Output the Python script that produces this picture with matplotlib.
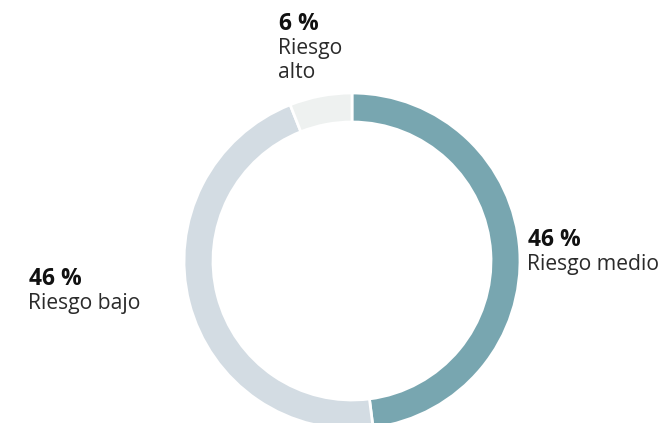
import matplotlib.pyplot as plt

# shares read from the ring (labels are the printed, rounded values)
categories = ['Riesgo medio', 'Riesgo bajo', 'Riesgo alto']
shares = [48, 46, 6]
pct_labels = ['46 %', '46 %', '6 %']
colors = ['#78a6b0', '#d3dce3', '#eef1f0']

plt.rcParams['font.family'] = ['Open Sans', 'DejaVu Sans']

W, H = 665, 423
fig = plt.figure(figsize=(W / 100, H / 100), dpi=100)
ax = fig.add_axes([0, 0, 1, 1])

cx, cy, r = 352, H - 261, 168
ax.pie(shares, colors=colors, startangle=90, counterclock=False,
       center=(cx, cy), radius=r,
       wedgeprops=dict(width=29, edgecolor='white', linewidth=2))
ax.set_xlim(0, W)
ax.set_ylim(0, H)
ax.set_aspect('equal')
ax.axis('off')

# label anchors (left x, top y in pixels from top)
label_pos = {'Riesgo medio': (528, 228, 'Riesgo medio'),
             'Riesgo bajo': (29, 267, 'Riesgo bajo'),
             'Riesgo alto': (279, 12, 'Riesgo\nalto')}
for cat, pct in zip(categories, pct_labels):
    x, y, txt = label_pos[cat]
    ax.text(x, H - y, pct, fontsize=16.5, fontweight='bold', color='#111111',
            ha='left', va='top')
    ax.text(x - 1, H - y - 26, txt, fontsize=15.2, color='#2a2a2a',
            ha='left', va='top', linespacing=1.2)

fig.savefig('out.png', dpi=100)
